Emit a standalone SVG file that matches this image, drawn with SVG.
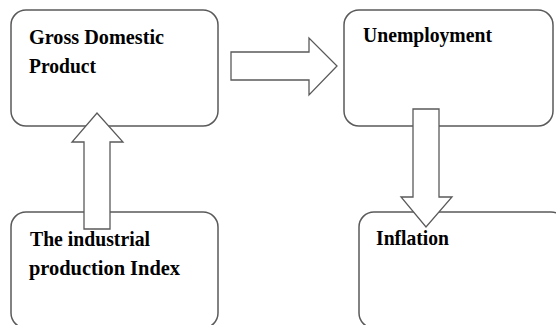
<svg xmlns="http://www.w3.org/2000/svg" width="556" height="325" viewBox="0 0 556 325">
<style>
.box{fill:#fff;stroke:#5a5a5a;stroke-width:1.5}
.arr{fill:#fff;stroke:#5a5a5a;stroke-width:1.3;stroke-linejoin:miter}
.lbl{font-family:"Liberation Serif","Times New Roman",serif;font-weight:bold;font-size:22px;fill:#000}
</style>
<rect width="556" height="325" fill="#fff"/>
<g id="gdp">
<rect class="box" x="11" y="10" width="207" height="116" rx="15" ry="15"/>
<text class="lbl" x="29" y="44" textLength="135" lengthAdjust="spacingAndGlyphs">Gross Domestic</text>
<text class="lbl" x="29" y="73" textLength="67" lengthAdjust="spacingAndGlyphs">Product</text>
</g>
<g id="unemployment">
<rect class="box" x="344" y="10" width="209" height="116" rx="15" ry="15"/>
<text class="lbl" x="363" y="42" textLength="129" lengthAdjust="spacingAndGlyphs">Unemployment</text>
</g>
<g id="industrial">
<rect class="box" x="11" y="212" width="207" height="116" rx="15" ry="15"/>
<text class="lbl" x="30" y="246" textLength="120" lengthAdjust="spacingAndGlyphs">The industrial</text>
<text class="lbl" x="29" y="275" textLength="151" lengthAdjust="spacingAndGlyphs">production  Index</text>
</g>
<g id="inflation">
<rect class="box" x="359" y="212" width="207" height="116" rx="15" ry="15"/>
<text class="lbl" x="376" y="245" textLength="73" lengthAdjust="spacingAndGlyphs">Inflation</text>
</g>
<g id="connectors">
<polygon class="arr" points="84,229 84,142 72,142 97,113 123,142 110,142 110,229"/>
<polygon class="arr" points="231,52 309,52 309,38 337,66 309,95 309,80 231,80"/>
<polygon class="arr" points="413,109 439,109 439,197 452,197 426,227 401,197 413,197"/>
</g>
</svg>
